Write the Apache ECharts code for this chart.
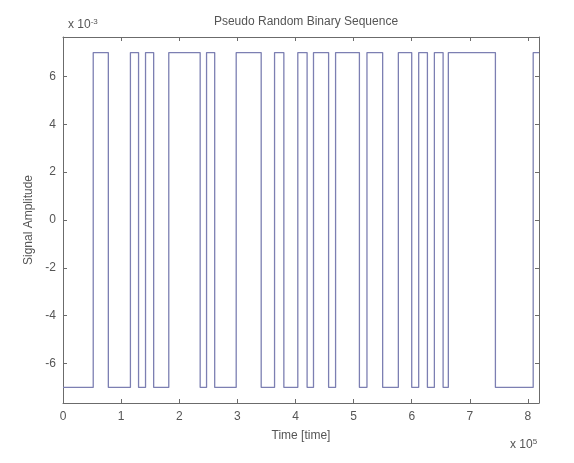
<!DOCTYPE html>
<html>
<head>
<meta charset="utf-8">
<script src="https://cdn.jsdelivr.net/npm/echarts@6/dist/echarts.min.js"></script>
<style>html,body{margin:0;padding:0;background:#fff;}#c{width:574px;height:463px;}</style>
</head>
<body>
<div id="c"></div>
<script>
// Data (x in units of 10^5, y in units of 10^-3)
const transitionTimes = [0.52, 0.78, 1.16, 1.30, 1.42, 1.56, 1.82, 2.36, 2.47, 2.61, 2.98, 3.41,
  3.64, 3.80, 4.04, 4.20, 4.31, 4.57, 4.69, 5.10, 5.23, 5.50, 5.77, 6.00, 6.12, 6.27, 6.39, 6.54,
  6.63, 7.44, 8.09];
const startLevel = -7;
const highLevel = 7;
const lowLevel = -7;
const xEnd = 8.19;
const xTicks = [0, 1, 2, 3, 4, 5, 6, 7, 8];
const yTicks = [-6, -4, -2, 0, 2, 4, 6];
const yLimit = 7.65;

// Build step series points
const points = [[0, startLevel]];
let level = startLevel;
for (const t of transitionTimes) {
  level = (level === lowLevel) ? highLevel : lowLevel;
  points.push([t, level]);
}
points.push([xEnd, level]);

const axisColor = '#6b6b6b';
const textColor = '#555';
const fontFamily = 'Liberation Sans, Arial, sans-serif';

const chart = echarts.init(document.getElementById('c'));
chart.setOption({
  backgroundColor: '#ffffff',
  animation: false,
  grid: { left: 63, right: 35, top: 37, bottom: 60 },
  title: [{
    text: 'Pseudo Random Binary Sequence',
    left: 301, top: 11, textAlign: 'center',
    textStyle: { color: textColor, fontSize: 12, fontWeight: 'normal', fontFamily: fontFamily }
  }, {
    text: 'x 10{s|-3}',
    left: 63, top: 13,
    textStyle: { color: textColor, fontSize: 12, fontWeight: 'normal', fontFamily: fontFamily,
      rich: { s: { fontSize: 8, verticalAlign: 'top', color: textColor, padding: [0,0,6,0] } } }
  }, {
    text: 'x 10{s|5}',
    left: 505, top: 433,
    textStyle: { color: textColor, fontSize: 12, fontWeight: 'normal', fontFamily: fontFamily,
      rich: { s: { fontSize: 8, verticalAlign: 'top', color: textColor, padding: [0,0,6,0] } } }
  }],
  xAxis: [{
    type: 'value', min: 0, max: xEnd, position: 'bottom',
    name: 'Time [time]', nameLocation: 'middle', nameGap: 27,
    nameTextStyle: { color: textColor, fontSize: 12, fontFamily: fontFamily },
    axisLine: { show: true, onZero: false, lineStyle: { color: axisColor, width: 1 } },
    axisTick: { show: true, inside: true, length: 4, customValues: xTicks, lineStyle: { color: axisColor } },
    axisLabel: { show: true, customValues: xTicks, color: textColor, fontSize: 12, fontFamily: fontFamily, margin: 8 },
    splitLine: { show: false }
  }, {
    type: 'value', min: 0, max: xEnd, position: 'top',
    axisLine: { show: true, onZero: false, lineStyle: { color: axisColor, width: 1 } },
    axisTick: { show: true, inside: true, length: 4, customValues: xTicks, lineStyle: { color: axisColor } },
    axisLabel: { show: false },
    splitLine: { show: false }
  }],
  yAxis: [{
    type: 'value', min: -yLimit, max: yLimit, position: 'left',
    name: 'Signal Amplitude', nameLocation: 'middle', nameGap: 24, nameRotate: 90,
    nameTextStyle: { color: textColor, fontSize: 12, fontFamily: fontFamily },
    axisLine: { show: true, onZero: false, lineStyle: { color: axisColor, width: 1 } },
    axisTick: { show: true, inside: true, length: 4, customValues: yTicks, lineStyle: { color: axisColor } },
    axisLabel: { show: true, customValues: yTicks, color: textColor, fontSize: 12, fontFamily: fontFamily, margin: 7 },
    splitLine: { show: false }
  }, {
    type: 'value', min: -yLimit, max: yLimit, position: 'right',
    axisLine: { show: true, onZero: false, lineStyle: { color: axisColor, width: 1 } },
    axisTick: { show: true, inside: true, length: 4, customValues: yTicks, lineStyle: { color: axisColor } },
    axisLabel: { show: false },
    splitLine: { show: false }
  }],
  series: [{
    type: 'line',
    xAxisIndex: 0, yAxisIndex: 0,
    step: 'end',
    data: points,
    showSymbol: false,
    symbol: 'none',
    clip: true,
    lineStyle: { color: '#7c7fb2', width: 1.3 }
  }]
});
</script>
</body>
</html>
